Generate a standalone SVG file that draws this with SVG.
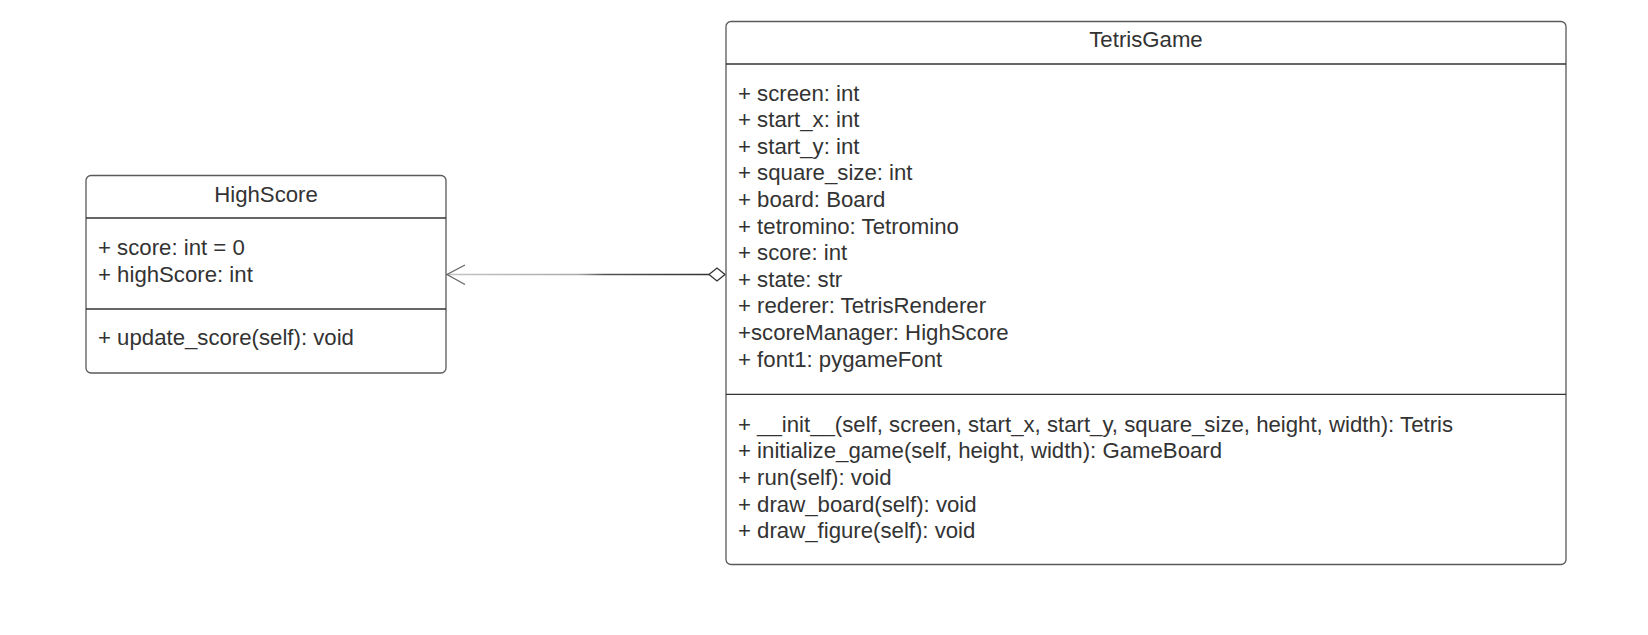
<svg xmlns="http://www.w3.org/2000/svg" width="1648" height="635" viewBox="0 0 1648 635">
<style>
.box{fill:#fff;stroke:#5a5a5a;stroke-width:1.3}
.div{stroke:#333;stroke-width:1.3}
text{font-family:"Liberation Sans",Arial,sans-serif;font-size:22.2px;fill:#333}
.title{text-anchor:middle}
</style>
<defs>
<linearGradient id="lg" gradientUnits="userSpaceOnUse" x1="447" y1="0" x2="709" y2="0">
<stop offset="0" stop-color="#c4c4c4"/>
<stop offset="0.5" stop-color="#aaa"/>
<stop offset="0.6" stop-color="#555"/>
<stop offset="1" stop-color="#333"/>
</linearGradient>
</defs>
<rect width="1648" height="635" fill="#fff"/>
<g id="connectors">
<line x1="447" y1="274.5" x2="709" y2="274.5" stroke="url(#lg)" stroke-width="1.3"/>
<polyline points="465,265 447,274.5 465,284.5" fill="none" stroke="#666" stroke-width="1.3"/>
<polygon points="709,274.5 717,268 725,274.5 717,281" fill="#fff" stroke="#333" stroke-width="1.3"/>
</g>
<g id="HighScore">
<rect class="box" x="86" y="175.5" width="360" height="197.5" rx="5"/>
<line class="div" x1="86" y1="218" x2="446" y2="218"/>
<line class="div" x1="86" y1="309" x2="446" y2="309"/>
<text class="title" x="266" y="202">HighScore</text>
<text x="98" y="255">+ score: int = 0</text>
<text x="98" y="281.5">+ highScore: int</text>
<text x="98" y="345">+ update_score(self): void</text>
</g>
<g id="TetrisGame">
<rect class="box" x="726" y="21.5" width="840" height="543" rx="5"/>
<line class="div" x1="726" y1="64" x2="1566" y2="64"/>
<line class="div" x1="726" y1="394.3" x2="1566" y2="394.3"/>
<text class="title" x="1146" y="47">TetrisGame</text>
<text x="738" y="100.7">+ screen: int</text>
<text x="738" y="127.3">+ start_x: int</text>
<text x="738" y="153.8">+ start_y: int</text>
<text x="738" y="180.4">+ square_size: int</text>
<text x="738" y="207">+ board: Board</text>
<text x="738" y="233.6">+ tetromino: Tetromino</text>
<text x="738" y="260.2">+ score: int</text>
<text x="738" y="286.8">+ state: str</text>
<text x="738" y="313.4">+ rederer: TetrisRenderer</text>
<text x="738" y="340">+scoreManager: HighScore</text>
<text x="738" y="366.6">+ font1: pygameFont</text>
<text x="738" y="431.7">+ __init__(self, screen, start_x, start_y, square_size, height, width): Tetris</text>
<text x="738" y="458.3">+ initialize_game(self, height, width): GameBoard</text>
<text x="738" y="485">+ run(self): void</text>
<text x="738" y="511.6">+ draw_board(self): void</text>
<text x="738" y="538.2">+ draw_figure(self): void</text>
</g>
</svg>
